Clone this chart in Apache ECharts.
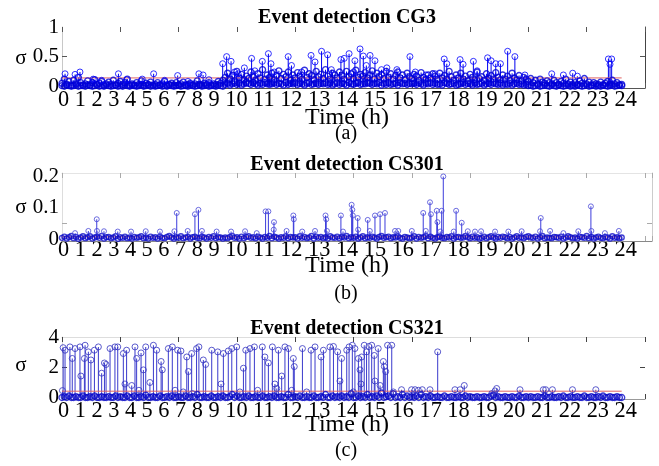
<!DOCTYPE html>
<html><head><meta charset="utf-8">
<script src="https://cdn.jsdelivr.net/npm/echarts@6/dist/echarts.min.js"></script>
<style>html,body{margin:0;padding:0;background:#fff}#c{width:659px;height:466px}</style>
</head><body><div id="c"></div>
<script>
// ---------- data ----------
const hourLabels = ['0','1','2','3','4','5','6','7','8','9','10','11','12','13','14','15','16','17','18','19','20','21','22','23','24'];
const panelTitles = ['Event detection CG3', 'Event detection CS301', 'Event detection CS321'];
const panelTags = ['(a)', '(b)', '(c)'];
const baseStep = 0.1; // sampling interval of the dense low-level series

// CG3: prominent stems [time, sigma]
const cg3Peaks = [[0.13,0.21],[0.56,0.20],[0.77,0.24],[1.34,0.12],[1.70,0.10],[2.42,0.21],[2.77,0.11],[3.44,0.12],[3.93,0.21],[4.40,0.10],[4.96,0.18],[5.40,0.08],[5.87,0.21],[6.05,0.19],[6.30,0.11],
[6.89,0.38],[7.06,0.50],[7.25,0.42],[7.40,0.24],[7.55,0.21],[7.82,0.31],[8.13,0.47],[8.27,0.26],[8.59,0.42],[8.85,0.55],[8.96,0.38],[9.10,0.24],[9.70,0.50],[9.84,0.35],[10.27,0.24],[10.68,0.52],[10.85,0.41],[11.13,0.59],[11.39,0.53],[11.55,0.28],[11.96,0.45],[12.10,0.47],[12.31,0.55],[12.50,0.24],
[12.56,0.43],[12.78,0.63],[12.92,0.51],[13.05,0.35],[13.21,0.52],[13.42,0.43],[13.70,0.28],[13.93,0.31],[14.36,0.28],[14.92,0.50],[15.15,0.24],[15.60,0.19],[16.00,0.21],[16.39,0.46],[16.50,0.38],[17.07,0.45],[17.20,0.37],[17.64,0.42],[17.80,0.26],[18.25,0.48],[18.40,0.43],[18.60,0.38],[18.80,0.38],[19.11,0.59],[19.42,0.50],[19.85,0.19],[21.00,0.21],[21.50,0.19],[21.90,0.22],[22.10,0.17],[23.43,0.46],[23.57,0.46],[23.50,0.37]];
// CG3: dense low-level values, one per baseStep from 0 to 24
const cg3Base = [
0.05,0.12,0.03,0.08,0.02,0.10,0.04,0.15,0.06,0.02,
0.04,0.09,0.02,0.06,0.11,0.03,0.05,0.08,0.02,0.04,
0.07,0.03,0.10,0.02,0.05,0.08,0.03,0.06,0.12,0.02,
0.04,0.02,0.06,0.03,0.09,0.02,0.05,0.03,0.07,0.02,
0.03,0.06,0.02,0.04,0.08,0.02,0.03,0.05,0.02,0.06,
0.02,0.04,0.07,0.02,0.03,0.05,0.02,0.04,0.09,0.03,
0.02,0.05,0.03,0.06,0.02,0.04,0.03,0.08,0.05,0.10,
0.15,0.22,0.12,0.18,0.09,0.25,0.14,0.20,0.11,0.17,
0.13,0.24,0.16,0.10,0.21,0.14,0.28,0.12,0.19,0.15,
0.22,0.11,0.18,0.26,0.13,0.20,0.16,0.24,0.10,0.19,
0.14,0.23,0.17,0.12,0.27,0.15,0.21,0.18,0.11,0.25,
0.16,0.20,0.13,0.28,0.17,0.12,0.22,0.19,0.14,0.24,
0.18,0.12,0.25,0.16,0.21,0.13,0.27,0.15,0.20,0.17,
0.23,0.14,0.19,0.26,0.12,0.22,0.16,0.20,0.13,0.25,
0.15,0.21,0.12,0.18,0.24,0.14,0.19,0.11,0.22,0.16,
0.13,0.20,0.17,0.10,0.23,0.15,0.12,0.19,0.14,0.21,
0.17,0.11,0.22,0.14,0.18,0.12,0.25,0.16,0.10,0.19,
0.14,0.22,0.12,0.17,0.09,0.20,0.15,0.11,0.24,0.13,
0.16,0.10,0.21,0.13,0.18,0.12,0.23,0.15,0.11,0.19,
0.12,0.17,0.10,0.22,0.14,0.11,0.18,0.09,0.15,0.12,
0.08,0.13,0.06,0.10,0.04,0.12,0.07,0.05,0.09,0.06,
0.04,0.10,0.06,0.03,0.08,0.05,0.12,0.04,0.07,0.03,
0.06,0.03,0.09,0.05,0.13,0.04,0.07,0.02,0.06,0.04,
0.03,0.07,0.02,0.05,0.08,0.03,0.10,0.04,0.06,0.02,
0.03];
// CG3: readings sitting on the baseline
const cg3Floor = [
0.01,0.00,0.02,0.01,0.00,0.01,0.02,0.00,0.01,0.01,
0.00,0.02,0.01,0.00,0.01,0.02,0.00,0.01,0.00,0.02,
0.01,0.00,0.01,0.02,0.00,0.01,0.00,0.02,0.01,0.00,
0.02,0.01,0.00,0.01,0.02,0.00,0.01,0.02,0.00,0.01,
0.00,0.01,0.02,0.00,0.01,0.00,0.02,0.01,0.00,0.01,
0.02,0.00,0.01,0.01,0.00,0.02,0.01,0.00,0.01,0.02,
0.00,0.01,0.02,0.00,0.01,0.01,0.00,0.02,0.01,0.00,
0.03,0.05,0.02,0.04,0.06,0.03,0.05,0.02,0.04,0.06,
0.05,0.03,0.06,0.04,0.02,0.05,0.03,0.06,0.04,0.03,
0.04,0.06,0.03,0.05,0.04,0.02,0.06,0.03,0.05,0.04,
0.06,0.03,0.05,0.04,0.02,0.05,0.06,0.03,0.04,0.05,
0.03,0.05,0.04,0.06,0.03,0.05,0.02,0.04,0.06,0.03,
0.05,0.04,0.02,0.06,0.04,0.03,0.05,0.06,0.03,0.04,
0.04,0.06,0.05,0.03,0.05,0.04,0.06,0.02,0.05,0.03,
0.06,0.03,0.04,0.05,0.02,0.06,0.04,0.05,0.03,0.05,
0.04,0.05,0.03,0.06,0.04,0.02,0.05,0.04,0.06,0.03,
0.05,0.03,0.04,0.02,0.06,0.05,0.03,0.04,0.05,0.02,
0.03,0.04,0.06,0.03,0.05,0.04,0.02,0.05,0.03,0.04,
0.05,0.02,0.04,0.05,0.03,0.06,0.04,0.03,0.05,0.02,
0.04,0.03,0.05,0.02,0.04,0.05,0.03,0.04,0.02,0.03,
0.01,0.02,0.00,0.01,0.02,0.00,0.01,0.02,0.01,0.00,
0.02,0.01,0.00,0.02,0.01,0.00,0.01,0.02,0.00,0.01,
0.00,0.02,0.01,0.00,0.01,0.02,0.00,0.01,0.02,0.00,
0.01,0.00,0.02,0.01,0.00,0.01,0.02,0.00,0.01,0.02,
0.01];
const cg3Threshold = 0.14;

// CS301
const cs301Peaks = [[0.56,0.019],[1.13,0.026],[1.49,0.063],[1.50,0.026],[1.80,0.025],[2.39,0.024],[2.96,0.024],[3.59,0.025],[4.20,0.024],[4.82,0.025],[4.92,0.083],[5.39,0.026],[5.70,0.079],[5.85,0.093],[6.00,0.026],[6.63,0.024],[7.25,0.024],[7.85,0.025],[8.35,0.019],[8.73,0.088],[8.85,0.088],[9.09,0.054],[9.08,0.030],[9.63,0.026],[9.92,0.075],[9.94,0.063],[10.30,0.024],[10.85,0.026],[11.30,0.075],[11.33,0.063],[11.36,0.026],[11.96,0.075],[12.05,0.024],[12.42,0.109],[12.45,0.093],[12.47,0.075],
[12.68,0.067],[12.70,0.030],[13.11,0.061],[13.20,0.026],[13.42,0.075],[13.64,0.079],[13.85,0.083],[14.28,0.026],[14.42,0.026],[15.00,0.026],[15.49,0.083],[15.60,0.026],[15.78,0.117],[15.82,0.079],[16.07,0.090],[16.10,0.054],[16.28,0.090],[16.35,0.199],[16.22,0.024],[16.90,0.090],[16.80,0.024],[17.14,0.052],[17.40,0.025],[17.71,0.024],[17.97,0.025],[18.57,0.024],[19.14,0.024],[19.71,0.025],[20.53,0.067],[20.50,0.025],[20.93,0.026],[21.50,0.019],[22.14,0.025],[22.68,0.104],[22.70,0.026],[23.28,0.019],[23.88,0.026]];
const cs301Base = [
0.004,0.008,0.002,0.006,0.010,0.003,0.007,0.001,0.005,0.009,
0.003,0.006,0.009,0.002,0.005,0.008,0.004,0.010,0.002,0.006,
0.007,0.003,0.005,0.009,0.001,0.006,0.004,0.008,0.003,0.005,
0.002,0.007,0.004,0.006,0.009,0.003,0.005,0.002,0.008,0.004,
0.006,0.002,0.008,0.004,0.003,0.007,0.010,0.005,0.002,0.006,
0.004,0.009,0.003,0.005,0.007,0.002,0.006,0.008,0.004,0.003,
0.008,0.005,0.002,0.007,0.004,0.009,0.003,0.006,0.005,0.002,
0.005,0.003,0.007,0.010,0.004,0.006,0.002,0.008,0.003,0.007,
0.009,0.004,0.006,0.003,0.008,0.005,0.002,0.007,0.004,0.010,
0.003,0.008,0.005,0.002,0.006,0.004,0.009,0.003,0.007,0.005,
0.006,0.002,0.009,0.004,0.007,0.003,0.005,0.010,0.002,0.008,
0.004,0.007,0.003,0.006,0.002,0.009,0.005,0.004,0.008,0.003,
0.007,0.005,0.010,0.003,0.006,0.004,0.008,0.002,0.005,0.009,
0.003,0.006,0.004,0.008,0.005,0.002,0.007,0.010,0.004,0.006,
0.008,0.003,0.006,0.005,0.009,0.004,0.002,0.007,0.005,0.003,
0.005,0.009,0.002,0.007,0.004,0.006,0.010,0.003,0.008,0.004,
0.002,0.006,0.008,0.004,0.003,0.007,0.005,0.009,0.002,0.006,
0.007,0.004,0.005,0.010,0.006,0.003,0.008,0.004,0.006,0.002,
0.004,0.008,0.003,0.006,0.009,0.005,0.002,0.007,0.004,0.008,
0.006,0.003,0.007,0.002,0.005,0.009,0.004,0.006,0.003,0.007,
0.009,0.005,0.004,0.008,0.002,0.006,0.010,0.003,0.005,0.004,
0.003,0.007,0.006,0.004,0.008,0.002,0.005,0.009,0.006,0.003,
0.005,0.002,0.008,0.006,0.004,0.010,0.003,0.007,0.002,0.005,
0.008,0.004,0.003,0.007,0.005,0.002,0.009,0.004,0.006,0.003,
0.005];
const cs301Threshold = 0.007;

// CS321
const cs321Peaks = [[0.02,0.46],[0.05,3.32],[0.13,3.15],[0.34,3.37],[0.44,2.6],[0.56,3.26],[0.77,3.37],[0.81,1.43],[0.96,2.6],[0.99,3.48],[1.13,3.04],[1.24,2.5],[1.39,3.15],[1.56,3.37],[1.70,1.62],[1.82,2.3],[1.89,2.2],[2.06,3.26],[2.27,3.37],[2.39,3.37],[2.63,2.93],[2.70,0.9],[2.77,3.15],[2.99,0.8],[3.13,3.37],[3.20,2.6],[3.30,0.48],[3.39,2.97],[3.49,1.84],[3.59,3.37],[3.77,1.0],[3.92,3.48],[4.06,3.15],[4.25,2.4],[4.30,1.84],[4.56,3.26],[4.73,3.37],[4.85,0.48],[4.96,3.15],[5.10,3.1],[5.20,0.37],[5.35,2.7],[5.42,1.73],[5.56,2.93],[5.59,0.26],[5.77,3.26],[5.87,3.37],[6.06,2.5],[6.16,2.2],[6.42,3.15],[6.68,3.04],[6.82,0.9],[6.92,2.93],[7.13,3.1],[7.28,3.26],[7.49,3.37],[7.63,0.37],[7.78,1.95],[7.88,3.15],[8.06,3.26],[8.25,3.37],[8.39,0.48],[8.59,3.37],[8.70,2.7],[8.85,2.3],[9.02,3.37],[9.13,0.9],[9.21,0.6],[9.28,3.15],[9.42,1.43],[9.56,3.37],[9.71,3.26],[9.85,0.48],[9.92,2.6],[9.96,2.06],[10.31,3.26],[10.49,0.37],[10.68,3.15],[10.85,3.37],[11.11,2.7],[11.21,3.15],[11.49,3.37],[11.64,3.4],[11.82,3.04],[11.92,1.1],[11.99,2.6],[12.21,3.15],[12.31,3.37],[12.45,3.48],[12.49,0.37],[12.56,3.26],[12.71,2.6],[12.78,1.84],[12.82,0.9],[12.85,2.7],[12.96,3.48],[13.06,3.04],[13.16,3.4],[13.28,3.48],[13.39,2.8],[13.42,1.1],[13.56,3.26],[13.64,0.8],[13.78,2.4],[13.82,2.06],[13.88,1.73],[13.96,3.48],[14.14,3.48],[14.21,0.37],[14.56,0.52],[14.99,0.52],[15.14,0.52],[15.28,0.48],[15.45,0.52],[15.78,0.52],[16.11,3.04],[16.85,0.52],[17.07,0.52],[17.25,0.8],[18.43,0.26],[18.57,0.44],[18.64,0.6],[19.64,0.52],[20.64,0.52],[20.74,0.52],[21.03,0.52],[21.89,0.52],[22.89,0.52]];
const cs321Base = [
0,0.05,0,0.1,0,0,0.05,0,0,0.1,
0,0,0.05,0,0.1,0,0,0.05,0,0,
0.05,0,0,0.1,0,0.05,0,0,0.1,0,
0,0.1,0,0,0.05,0,0.15,0,0,0.05,
0,0,0.1,0,0,0.05,0,0.1,0,0,
0.05,0,0,0.1,0,0,0.05,0,0.2,0,
0,0.05,0,0,0.1,0,0,0.05,0,0.1,
0,0,0.05,0.2,0,0.1,0,0,0.05,0,
0.1,0,0,0.05,0,0,0.1,0,0,0.05,
0,0.1,0,0,0.05,0,0,0.2,0,0,
0.05,0,0.1,0,0,0.05,0,0,0.1,0,
0,0.05,0,0.2,0,0,0.1,0,0.05,0,
0.1,0,0.05,0,0.25,0,0,0.1,0,0.05,
0,0.2,0,0.05,0,0.1,0,0.3,0,0.05,
0.1,0,0.25,0,0.05,0,0.2,0,0.1,0,
0.05,0,0.1,0,0.2,0,0.05,0,0.1,0,
0,0.05,0,0,0.1,0,0,0.05,0,0,
0.05,0,0,0.1,0,0.05,0,0,0.05,0,
0,0.05,0,0,0.1,0.15,0,0.05,0,0,
0.05,0,0,0.05,0,0,0.1,0,0,0.05,
0,0.05,0,0,0.05,0,0,0.1,0,0,
0.05,0,0,0.05,0,0.1,0,0,0.05,0,
0,0.05,0,0,0.1,0,0,0.05,0,0,
0.05,0,0.1,0,0,0.05,0,0,0.05,0,
0];
const cs321Threshold = 0.42;

const cg3YLabels = [0, 0.5, 1];
const cs301YLabels = [0, 0.1, 0.2];
const cs321YLabels = [0, 2, 4];
const cg3YTicks = [0.5];
const cs301YTicks = [0.05];
const cs321YTicks = [2];
const thresholdEnd = 24;

// ---------- build ----------
const SERIF = "'Liberation Serif','Times New Roman',serif";
function sampled(base) {
  return base.map((v, i) => [+(i * baseStep).toFixed(2), v]);
}
const panels = [
  { peaks: cg3Peaks, base: sampled(cg3Base).concat(sampled(cg3Floor)), thr: cg3Threshold, yLabels: cg3YLabels, yTicks: cg3YTicks,
    grid: { left: 62, right: 14, top: 27, height: 61 }, yMin: -0.03, yMax: 1, xMax: 25,
    stem: '#0000f0', mark: '#0000ff', baseMark: '#0000d8', size: 6, labPad: 0,
    left: '#c8c8c8', right: '#444', top: null, bottom: '#555', tick: '#555',
    titleY: 17.5, sigmaY: 58, xlabY: 100, timeY: 118, tagY: 134 },
  { peaks: cs301Peaks, base: sampled(cs301Base), thr: cs301Threshold, yLabels: cs301YLabels, yTicks: cs301YTicks,
    grid: { left: 62, right: 7, top: 173, height: 68 }, yMin: -0.006, yMax: 0.21, xMax: 25.3,
    stem: '#3c3cdc', mark: '#4a4ad8', baseMark: '#1010c8', size: 5, labPad: 7,
    left: '#dddddd', right: '#cccccc', top: '#e4e4e4', bottom: '#888', tick: '#aaa',
    titleY: 165, sigmaY: 207, xlabY: 250.5, timeY: 266, tagY: 294 },
  { peaks: cs321Peaks, base: sampled(cs321Base), thr: cs321Threshold, yLabels: cs321YLabels, yTicks: cs321YTicks,
    grid: { left: 62, right: 14, top: 337, height: 62 }, yMin: -0.1, yMax: 4.03, xMax: 25,
    stem: '#3a3acc', mark: '#3333c0', baseMark: '#0a0ac8', size: 6, labPad: 0,
    left: '#dddddd', right: null, top: '#dddddd', bottom: '#999', tick: '#444',
    titleY: 329, sigmaY: 365, xlabY: 411.5, timeY: 425, tagY: 451 }
];

const grids = [], xAxes = [], yAxes = [], series = [], graphics = [];
panels.forEach((p, i) => {
  grids.push(Object.assign({ containLabel: false }, p.grid));
  const line = c => ({ show: !!c, onZero: false, lineStyle: { color: c || '#fff', width: 1 } });
  xAxes.push({ gridIndex: i, type: 'value', position: 'bottom', min: 0, max: p.xMax, interval: 2.5,
    axisLine: line(p.bottom), axisTick: { show: true, inside: true, length: 5, lineStyle: { color: p.tick } },
    axisLabel: { show: false }, splitLine: { show: false } });
  xAxes.push({ gridIndex: i, type: 'value', position: 'top', min: 0, max: p.xMax, interval: 2.5,
    axisLine: line(p.top), axisTick: { show: true, inside: true, length: 5, lineStyle: { color: p.tick } },
    axisLabel: { show: false }, splitLine: { show: false } });
  yAxes.push({ gridIndex: i, type: 'value', position: 'left', min: p.yMin, max: p.yMax,
    axisLine: line(p.left), axisTick: { show: true, inside: true, length: 5, customValues: p.yTicks, lineStyle: { color: p.tick } },
    axisLabel: { show: true, customValues: p.yLabels, formatter: v => String(v), margin: 3,
      fontFamily: SERIF, fontSize: 21, color: '#000', padding: [0, 0, p.labPad, 0] },
    splitLine: { show: false } });
  yAxes.push({ gridIndex: i, type: 'value', position: 'right', min: p.yMin, max: p.yMax,
    axisLine: line(p.right), axisTick: { show: true, inside: true, length: 5, customValues: p.yTicks, lineStyle: { color: p.tick } },
    axisLabel: { show: false }, splitLine: { show: false } });

  const all = p.base.concat(p.peaks);
  series.push({ type: 'bar', xAxisIndex: 2 * i, yAxisIndex: 2 * i, data: all, barWidth: 1,
    itemStyle: { color: p.stem }, silent: true, animation: false });
  series.push({ type: 'line', xAxisIndex: 2 * i, yAxisIndex: 2 * i, data: [[0, p.thr], [thresholdEnd, p.thr]],
    symbol: 'none', lineStyle: { color: '#e06464', width: 1 }, silent: true, animation: false, z: 3 });
  series.push({ type: 'scatter', xAxisIndex: 2 * i, yAxisIndex: 2 * i, data: p.base, symbol: 'circle', symbolSize: p.size,
    itemStyle: { color: 'rgba(0,0,0,0)', borderColor: p.baseMark, borderWidth: 1.4 }, silent: true, animation: false, z: 4 });
  series.push({ type: 'scatter', xAxisIndex: 2 * i, yAxisIndex: 2 * i, data: p.peaks, symbol: 'circle', symbolSize: p.size,
    itemStyle: { color: 'rgba(0,0,0,0)', borderColor: p.mark, borderWidth: 1 }, silent: true, animation: false, z: 4 });

  graphics.push({ type: 'text', x: 347, y: p.titleY, style: { text: panelTitles[i], font: 'bold 20px ' + SERIF, fill: '#000', textAlign: 'center', textVerticalAlign: 'middle' } });
  graphics.push({ type: 'text', x: 21, y: p.sigmaY, style: { text: 'σ', font: '21px ' + SERIF, fill: '#000', textAlign: 'center', textVerticalAlign: 'middle' } });
  graphics.push({ type: 'text', x: 58, y: p.xlabY, style: { text: hourLabels.join(' '), font: '22.3px ' + SERIF, fill: '#000', textAlign: 'left', textVerticalAlign: 'middle' } });
  graphics.push({ type: 'text', x: 347, y: p.timeY, style: { text: 'Time (h)', font: '24px ' + SERIF, fill: '#000', textAlign: 'center', textVerticalAlign: 'middle' } });
  graphics.push({ type: 'text', x: 346, y: p.tagY, style: { text: panelTags[i], font: '20px ' + SERIF, fill: '#000', textAlign: 'center', textVerticalAlign: 'middle' } });
});

const chart = echarts.init(document.getElementById('c'));
chart.setOption({
  animation: false,
  backgroundColor: '#fff',
  grid: grids, xAxis: xAxes, yAxis: yAxes, series: series,
  graphic: { elements: graphics }
});
</script></body></html>
